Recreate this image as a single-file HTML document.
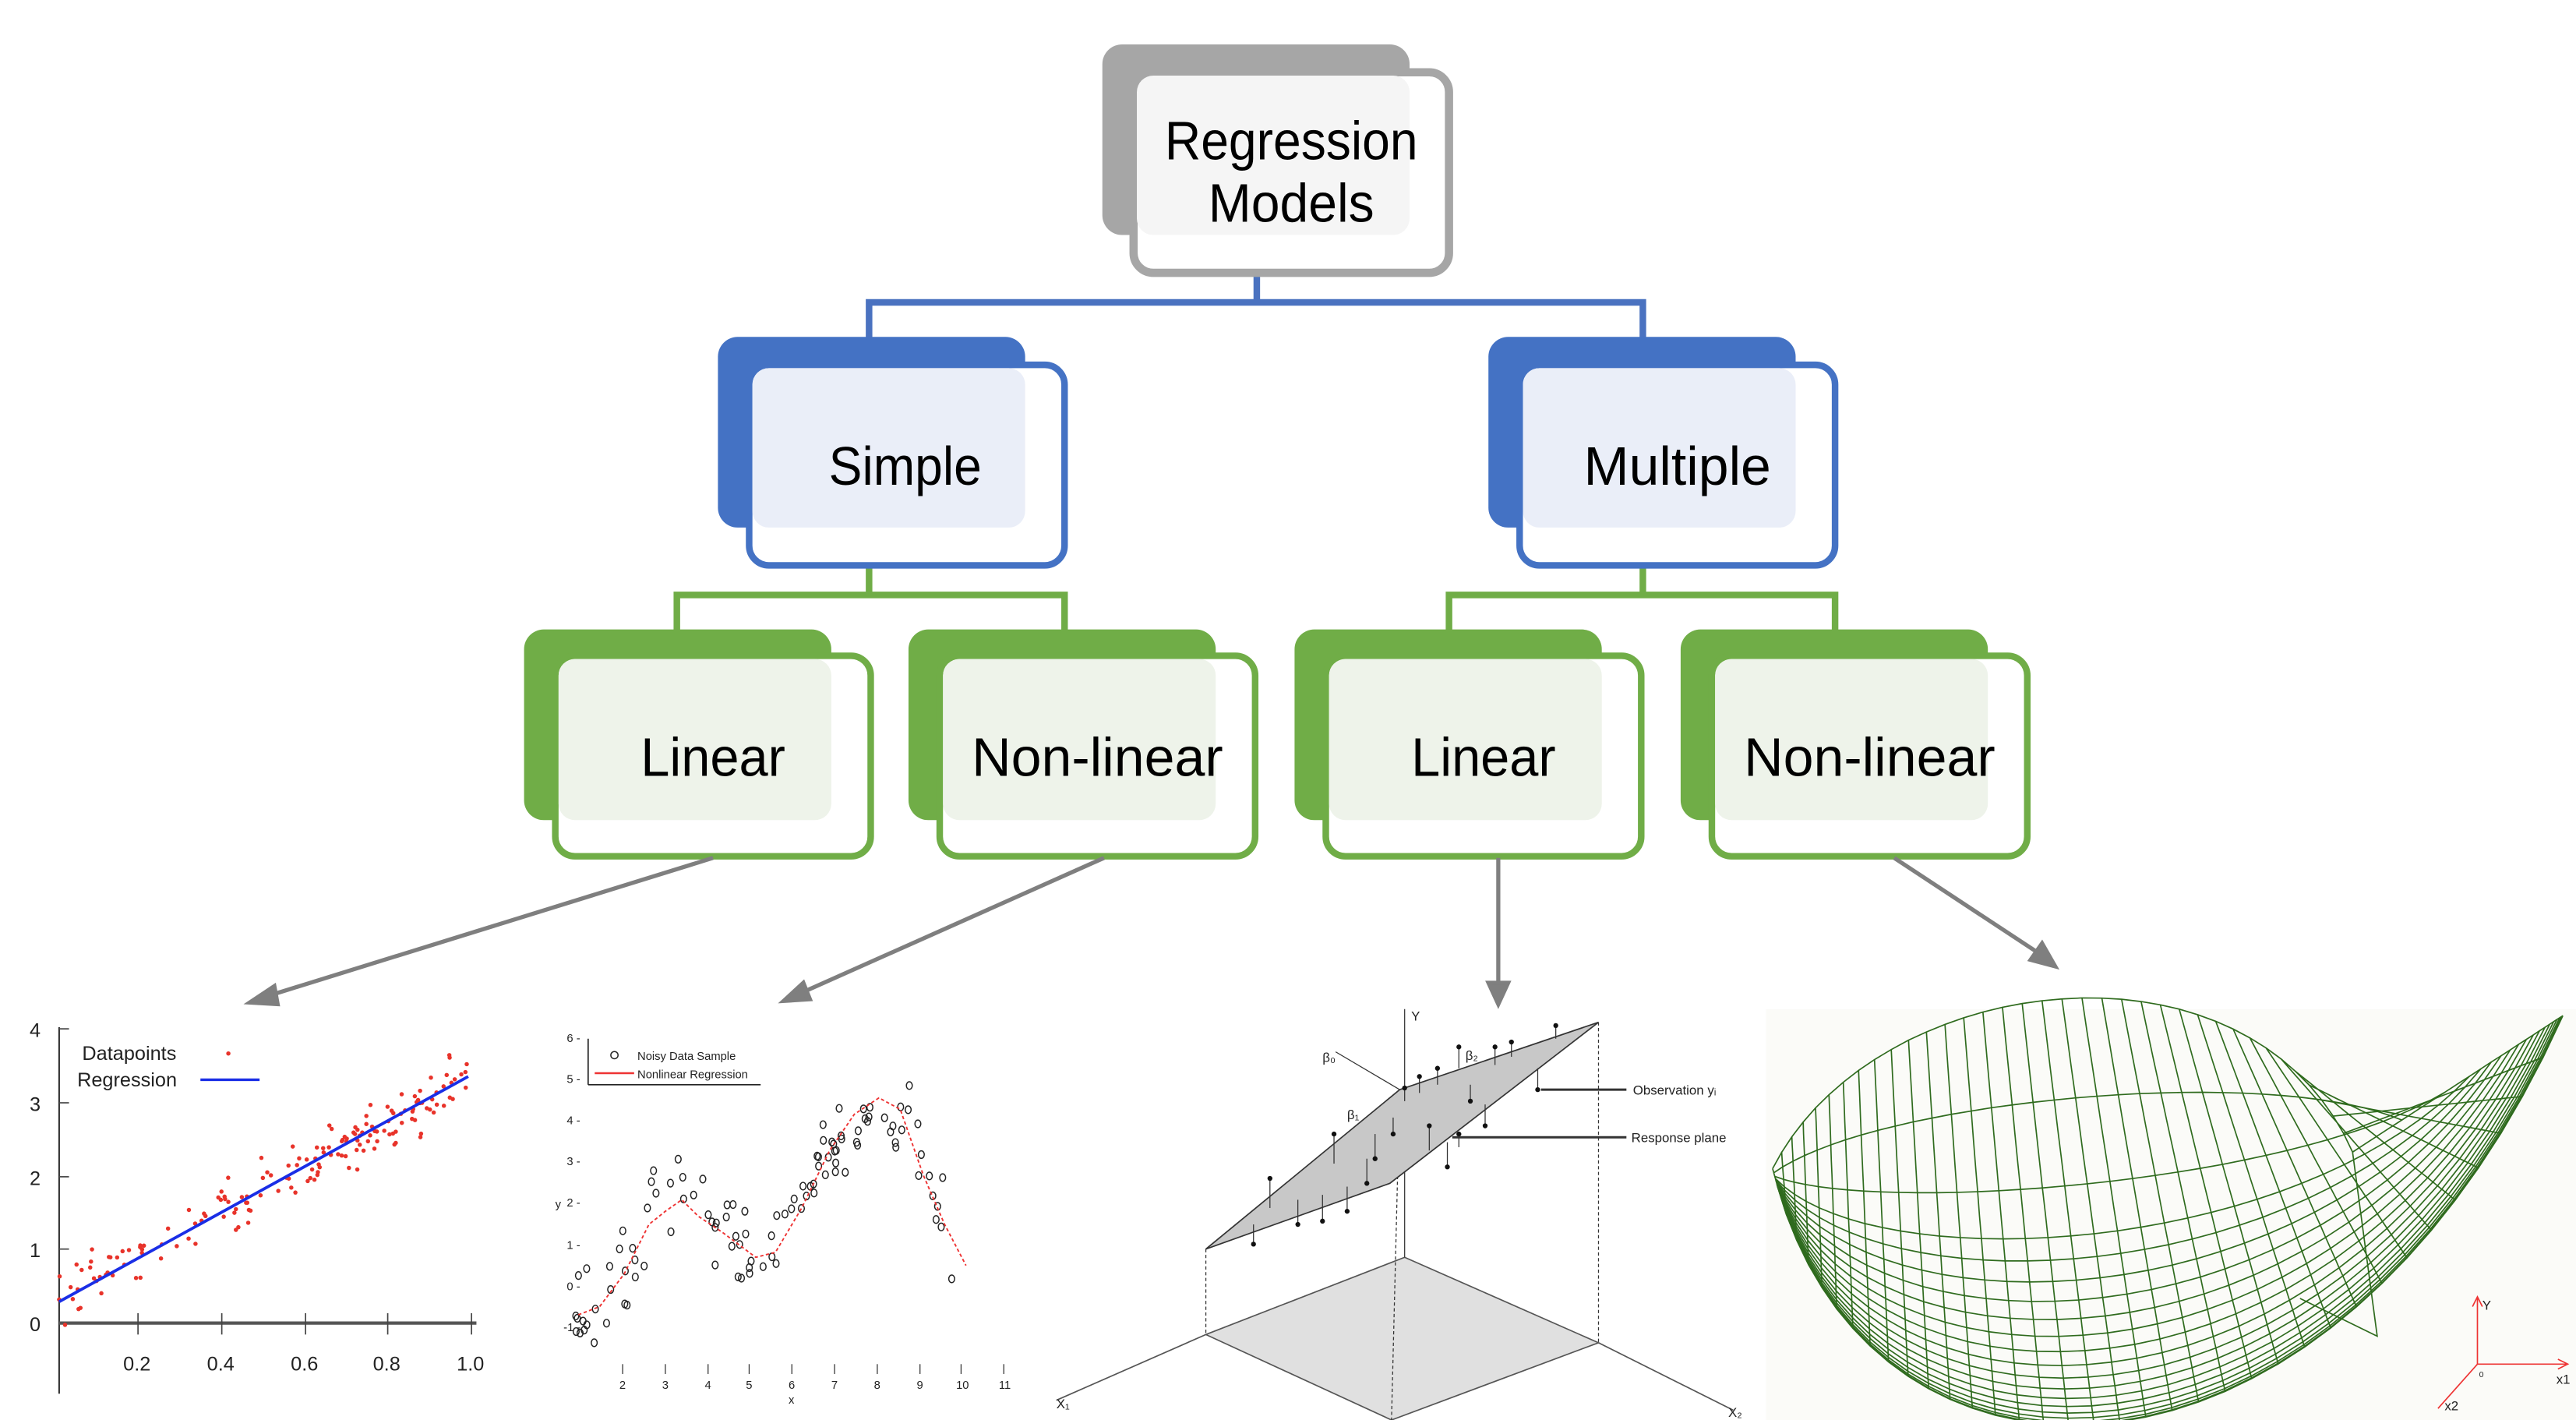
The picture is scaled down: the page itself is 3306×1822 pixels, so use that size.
<!DOCTYPE html>
<html><head><meta charset="utf-8"><style>
html,body{margin:0;padding:0;background:#fff;}
svg{display:block;}
text{font-family:"Liberation Sans",sans-serif;}
</style></head><body>
<svg id="s" xmlns="http://www.w3.org/2000/svg" width="3306" height="1822" viewBox="0 0 1568 864" preserveAspectRatio="none">
<rect width="1568" height="864" fill="#fff"/>
<g stroke="#4a72c0" stroke-width="4" fill="none">
<path d="M765 166 V184 M527 184 H1002 M529 184 V206 M1000 184 V206"/>
</g>
<g stroke="#70ad47" stroke-width="4" fill="none">
<path d="M529 344 V362 M410 362 H650 M412 362 V384 M648 362 V384"/>
<path d="M1000 344 V362 M880 362 H1119 M882 362 V384 M1117 362 V384"/>
</g>
<rect x="671" y="27" width="187" height="116" rx="12" fill="#a6a6a6"/>
<rect x="690" y="44" width="192" height="122" rx="12" fill="#fff" stroke="#a6a6a6" stroke-width="5"/>
<rect x="692" y="46" width="166" height="97" rx="10" fill="#f5f5f5"/>
<text x="786" y="97" font-size="33" text-anchor="middle" textLength="154" lengthAdjust="spacingAndGlyphs">Regression</text>
<text x="786" y="135" font-size="33" text-anchor="middle" textLength="101" lengthAdjust="spacingAndGlyphs">Models</text>
<g id="l2"></g>
<g stroke="#7f7f7f" stroke-width="2.5" fill="#7f7f7f">
<line x1="434" y1="522" x2="163" y2="606"/><polygon points="152,610 167,600 169,611"/>
<line x1="672" y1="522" x2="488" y2="604"/><polygon points="477,609 489,598 493,608"/>
<line x1="912" y1="522" x2="912" y2="598"/><polygon points="906,598 918,598 912,611"/>
<line x1="1153" y1="522" x2="1241" y2="580"/><polygon points="1251,588 1236,584 1243,574"/>
</g>
<g id="c1" font-size="12" fill="#222">
<line x1="36" y1="625" x2="36" y2="848" stroke="#333" stroke-width="1"/>
<line x1="36" y1="805" x2="290" y2="805" stroke="#555" stroke-width="2"/>
<g stroke="#444" stroke-width="0.8"><line x1="84" y1="799" x2="84" y2="812"/><line x1="135" y1="799" x2="135" y2="812"/><line x1="186" y1="799" x2="186" y2="812"/><line x1="236" y1="799" x2="236" y2="812"/><line x1="287" y1="799" x2="287" y2="812"/>
<line x1="36" y1="626" x2="42" y2="626"/><line x1="36" y1="671" x2="42" y2="671"/><line x1="36" y1="716" x2="42" y2="716"/><line x1="36" y1="760" x2="42" y2="760"/></g>
<text x="18" y="631">4</text><text x="18" y="676">3</text><text x="18" y="721">2</text><text x="18" y="765">1</text><text x="18" y="810">0</text>
<text x="75" y="834">0.2</text><text x="126" y="834">0.4</text><text x="177" y="834">0.6</text><text x="227" y="834">0.8</text><text x="278" y="834">1.0</text>
<text x="50" y="645">Datapoints</text><text x="47" y="661">Regression</text>
<circle cx="139" cy="641" r="1.3" fill="#e8332a"/>
<line x1="122" y1="657" x2="158" y2="657" stroke="#1a2ee6" stroke-width="1.6"/>
<g id="d1" fill="#e8332a"></g>
<line x1="36" y1="792" x2="285" y2="655" stroke="#1a2ee6" stroke-width="1.8"/>
</g>
<g id="c2" font-size="7" fill="#222">
<line x1="358" y1="632" x2="358" y2="660" stroke="#222" stroke-width="0.8"/>
<line x1="358" y1="660" x2="463" y2="660" stroke="#222" stroke-width="0.8"/>
<text x="345" y="634">6 -</text><text x="345" y="659">5 -</text><text x="345" y="684">4 -</text><text x="345" y="709">3 -</text><text x="345" y="734">2 -</text><text x="345" y="760">1 -</text><text x="345" y="785">0 -</text><text x="343" y="810">-1 -</text><text x="338" y="735">y</text>
<text x="377" y="845">2</text><text x="403" y="845">3</text><text x="429" y="845">4</text><text x="454" y="845">5</text><text x="480" y="845">6</text><text x="506" y="845">7</text><text x="532" y="845">8</text><text x="558" y="845">9</text><text x="582" y="845">10</text><text x="608" y="845">11</text><text x="480" y="854">x</text>
<g stroke="#333" stroke-width="0.6"><line x1="379" y1="830" x2="379" y2="836"/><line x1="405" y1="830" x2="405" y2="836"/><line x1="431" y1="830" x2="431" y2="836"/><line x1="456" y1="830" x2="456" y2="836"/><line x1="482" y1="830" x2="482" y2="836"/><line x1="508" y1="830" x2="508" y2="836"/><line x1="534" y1="830" x2="534" y2="836"/><line x1="560" y1="830" x2="560" y2="836"/><line x1="585" y1="830" x2="585" y2="836"/><line x1="611" y1="830" x2="611" y2="836"/></g>
<circle cx="374" cy="642" r="2.2" fill="none" stroke="#222" stroke-width="0.7"/>
<text x="388" y="645">Noisy Data Sample</text>
<line x1="362" y1="653" x2="386" y2="653" stroke="#e33" stroke-width="1.2"/>
<text x="388" y="656">Nonlinear Regression</text>
<g id="d2" fill="none" stroke="#222" stroke-width="0.7"></g>
<path id="curve" d="" fill="none" stroke="#e33" stroke-width="0.9" stroke-dasharray="2,1.5"/>
</g>
<g id="c3" stroke="#333" stroke-width="0.6" fill="none">
<polygon points="734,812 855,765 973,817 847,864" fill="#e0e0e0" stroke="#555" stroke-width="0.8"/>
<line x1="734" y1="812" x2="643" y2="852" stroke="#555" stroke-width="0.8"/>
<line x1="973" y1="817" x2="1055" y2="858" stroke="#555" stroke-width="0.8"/>
<line x1="852" y1="663" x2="847" y2="864" stroke-dasharray="2,1.5"/>
<line x1="734" y1="760" x2="734" y2="812" stroke-dasharray="2,1.5"/>
<line x1="973" y1="622" x2="973" y2="817" stroke-dasharray="2,1.5"/>
<line x1="855" y1="614" x2="855" y2="765"/>
<polygon points="734,760 852,663 973,622 846,720" fill="#c8c8c8" stroke="#333" stroke-width="0.8"/>
<g id="d3"></g>
<line x1="990" y1="663" x2="938" y2="663" stroke-width="1.4"/>
<line x1="990" y1="692" x2="884" y2="692" stroke-width="1.4"/>
<line x1="813" y1="640" x2="852" y2="663"/>
<g fill="#222" stroke="none" font-size="8">
<text x="859" y="621">Y</text><text x="805" y="646">β₀</text><text x="820" y="681">β₁</text><text x="892" y="645">β₂</text>
<text x="994" y="666">Observation yᵢ</text><text x="993" y="695">Response plane</text>
<text x="643" y="857">X₁</text><text x="1052" y="862">X₂</text>
</g>
</g>
<rect x="1075" y="614" width="493" height="250" fill="#fbfbf8"/>
<g id="d4" fill="none" stroke="#2f6b1e" stroke-width="0.8"></g>
<g stroke="#e33" stroke-width="0.8" fill="none">
<line x1="1508" y1="790" x2="1508" y2="830"/><line x1="1508" y1="830" x2="1562" y2="830"/><line x1="1508" y1="830" x2="1484" y2="857"/>
<path d="M1505 795 L1508 789 L1511 795 M1557 827 L1563 830 L1557 833"/>
</g>
<g font-size="8" fill="#222"><text x="1511" y="797">Y</text><text x="1556" y="842">x1</text><text x="1488" y="858">x2</text><text x="1509" y="838" font-size="5">0</text></g>
</svg>
<script>
var NS="http://www.w3.org/2000/svg";
function el(p,t,a){var e=document.createElementNS(NS,t);for(var k in a)e.setAttribute(k,a[k]);p.appendChild(e);return e;}
var l2=document.getElementById('l2');
function node(bx,by,fx,fy,col,ov,label,tw,tx,ty){
 el(l2,'rect',{x:bx,y:by,width:187,height:116,rx:12,fill:col});
 el(l2,'rect',{x:fx,y:fy,width:192,height:122,rx:12,fill:'#fff',stroke:col,'stroke-width':4});
 el(l2,'rect',{x:fx+2,y:fy+2,width:bx+187-fx-2,height:by+116-fy-2,rx:10,fill:ov});
 var t=el(l2,'text',{x:tx,y:ty,'font-size':33,'text-anchor':'middle',textLength:tw,lengthAdjust:'spacingAndGlyphs'});t.textContent=label;
}
node(437,205,456,222,'#4472c4','#eaeef8','Simple',93,551,295);
node(906,205,925,222,'#4472c4','#eaeef8','Multiple',114,1021,295);
var G='#70ad47',GO='#eef3ea';
node(319,383,338,399,G,GO,'Linear',88,434,472);
node(553,383,572,399,G,GO,'Non-linear',153,668,472);
node(788,383,807,399,G,GO,'Linear',88,903,472);
node(1023,383,1042,399,G,GO,'Non-linear',153,1138,472);
var seed=7;function r(){seed=(seed*16807)%2147483647;return seed/2147483647;}
var d1=document.getElementById('d1');
for(var i=0;i<170;i++){var x=36+r()*249;var y=792-(x-36)*137/249+(r()+r()+r()-1.5)*16;el(d1,'circle',{cx:x.toFixed(1),cy:y.toFixed(1),r:1.3});}
var P=[[352,800],[365,795],[380,775],[395,745],[405,737],[415,730],[425,740],[440,750],[460,765],[472,762],[488,735],[505,700],[520,678],[535,668],[548,675],[562,715],[575,745],[588,770]];
function cy(x){for(var i=0;i<P.length-1;i++){if(x<=P[i+1][0]){var t=(x-P[i][0])/(P[i+1][0]-P[i][0]);return P[i][1]+t*(P[i+1][1]-P[i][1]);}}return P[P.length-1][1];}
var d='M'+P[0][0]+' '+P[0][1];for(var i=1;i<P.length;i++)d+=' L'+P[i][0]+' '+P[i][1];
document.getElementById('curve').setAttribute('d',d);
var d2=document.getElementById('d2');
for(var i=0;i<110;i++){var x=350+r()*238;var y=cy(x)+(r()+r()-1)*32;el(d2,'ellipse',{cx:x.toFixed(1),cy:y.toFixed(1),rx:1.8,ry:2.3});}
var d3=document.getElementById('d3');
var obs=[[763,757,745],[773,717,735],[790,745,730],[805,743,727],[812,690,708],[820,737,722],[832,720,705],[837,705,690],[848,690,680],[855,662,670],[864,655,665],[870,685,700],[881,710,695],[888,637,650],[895,670,660],[904,685,672],[910,637,648],[920,634,643],[936,663,650],[947,624,632],[875,650,660],[888,690,698]];
obs.forEach(function(o){el(d3,'line',{x1:o[0],y1:o[1],x2:o[0],y2:o[2]});el(d3,'circle',{cx:o[0],cy:o[1],r:1.5,fill:'#111',stroke:'none'});});
var d4=document.getElementById('d4');
function cb(a,b,c,d,t){var u=1-t;return [u*u*u*a[0]+3*u*u*t*b[0]+3*u*t*t*c[0]+t*t*t*d[0],u*u*u*a[1]+3*u*u*t*b[1]+3*u*t*t*c[1]+t*t*t*d[1]];}
function lerp(a,b,t){return [a[0]+(b[0]-a[0])*t,a[1]+(b[1]-a[1])*t];}
var A=[[1079,711],[1140,590],[1370,560],[1432,701]], B=[[1082,722],[1140,930],[1420,930],[1560,618]];
var K=24,N=36,pts=[];
for(var k=0;k<=K;k++){var s=k/K;var e=1-Math.pow(1-s,2);var Q=[0,1,2,3].map(function(i){return lerp(A[i],B[i],e);});var row=[];for(var j=0;j<=N;j++)row.push(cb(Q[0],Q[1],Q[2],Q[3],j/N));pts.push(row);
 if(k===0||k>=K/3||k%3===0) el(d4,'polyline',{points:row.map(function(p){return p[0].toFixed(1)+','+p[1].toFixed(1);}).join(' ')});}
for(var j=0;j<=N;j++){var col=[];for(var k=0;k<=K;k++)col.push(pts[k][j]);el(d4,'polyline',{points:col.map(function(p){return p[0].toFixed(1)+','+p[1].toFixed(1);}).join(' ')});}
el(d4,'polyline',{points:'1432,701 1447,813 1400,790'});
</script>
</body></html>
